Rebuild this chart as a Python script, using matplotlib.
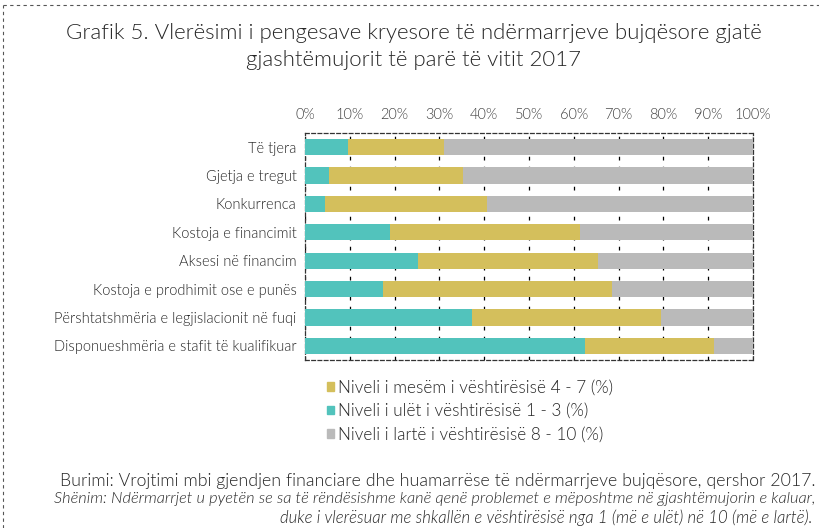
import matplotlib.pyplot as plt
from matplotlib.lines import Line2D
from matplotlib.patches import Patch

plt.rcParams['font.family'] = ['Lato', 'DejaVu Sans']
plt.rcParams['font.weight'] = 300

categories = [
    'Të tjera',
    'Gjetja e tregut',
    'Konkurrenca',
    'Kostoja e financimit',
    'Aksesi në financim',
    'Kostoja e prodhimit ose e punës',
    'Përshtatshmëria e legjislacionit në fuqi',
    'Disponueshmëria e stafit të kualifikuar',
]
low = [9.6, 5.4, 4.5, 19.0, 25.2, 17.4, 37.3, 62.5]      # 1 - 3
mid = [21.4, 29.9, 36.2, 42.4, 40.2, 51.1, 42.2, 28.8]   # 4 - 7
high = [round(100 - a - b, 1) for a, b in zip(low, mid)]  # 8 - 10

c_low = '#52C3BC'
c_mid = '#D4BF5C'
c_high = '#BABABA'
txt = '#262626'

fig = plt.figure(figsize=(8.19, 5.28), dpi=100)
ax = fig.add_axes([305 / 819, 1 - 360 / 528, 448 / 819, 227 / 528])

y = list(range(len(categories)))
ax.barh(y, low, height=0.57, color=c_low, zorder=3)
ax.barh(y, mid, left=low, height=0.57, color=c_mid, zorder=3)
ax.barh(y, high, left=[a + b for a, b in zip(low, mid)], height=0.57,
        color=c_high, zorder=3)

ax.set_xlim(0, 100)
ax.set_ylim(len(categories) - 0.5, -0.5)
ax.set_xticks(range(0, 101, 10))
ax.set_xticklabels([f'{v}%' for v in range(0, 101, 10)])
ax.xaxis.tick_top()
ax.set_yticks(y)
ax.set_yticklabels(categories)
ax.tick_params(axis='x', length=0, pad=8, labelsize=10.5, labelcolor='#404040')
ax.tick_params(axis='y', length=0, pad=6, labelsize=10.5, labelcolor=txt)
ax.grid(axis='x', color='black', linestyle=(0, (3, 5)), linewidth=0.9, zorder=1)
for s in ax.spines.values():
    s.set_linestyle((0, (3, 2)))
    s.set_linewidth(0.9)
    s.set_color('#333333')

handles = [
    Patch(color=c_mid, label='Niveli i mesëm i vështirësisë 4 - 7 (%)'),
    Patch(color=c_low, label='Niveli i ulët i vështirësisë 1 - 3 (%)'),
    Patch(color=c_high, label='Niveli i lartë i vështirësisë 8 - 10 (%)'),
]
fig.legend(handles=handles, loc='upper left', bbox_to_anchor=(312 / 819, 1 - 364 / 528),
           frameon=False, fontsize=12.3, handlelength=0.4, handleheight=0.4,
           handletextpad=0.2, labelspacing=0.45, labelcolor=txt)

fig.text(0.505, 1 - 33 / 528, 'Grafik 5. Vlerësimi i pengesave kryesore të ndërmarrjeve bujqësore gjatë',
         ha='center', va='center', fontsize=16, color=txt)
fig.text(0.505, 1 - 60 / 528, 'gjashtëmujorit të parë të vitit 2017',
         ha='center', va='center', fontsize=16, color=txt)

fig.text(815 / 819, 1 - 481 / 528,
         'Burimi: Vrojtimi mbi gjendjen financiare dhe huamarrëse të ndërmarrjeve bujqësore, qershor 2017.',
         ha='right', va='center', fontsize=12.8, color=txt)
fig.text(815 / 819, 1 - 499 / 528,
         'Shënim: Ndërmarrjet u pyetën se sa të rëndësishme kanë qenë problemet e mëposhtme në gjashtëmujorin e kaluar,',
         ha='right', va='center', fontsize=11.75, style='italic', color=txt)
fig.text(812 / 819, 1 - 518 / 528,
         'duke i vlerësuar me shkallën e vështirësisë nga 1 (më e ulët) në 10 (më e lartë).',
         ha='right', va='center', fontsize=12.1, style='italic', color=txt)

# dashed outer frame (top and left edges visible)
fig.add_artist(Line2D([3 / 819, 1], [1 - 5 / 528, 1 - 5 / 528], transform=fig.transFigure,
                      color='#555555', linewidth=0.8, linestyle=(0, (3, 3))))
fig.add_artist(Line2D([3 / 819, 3 / 819], [0, 1 - 5 / 528], transform=fig.transFigure,
                      color='#555555', linewidth=0.8, linestyle=(0, (3, 3))))

fig.savefig('out.png', dpi=100)
